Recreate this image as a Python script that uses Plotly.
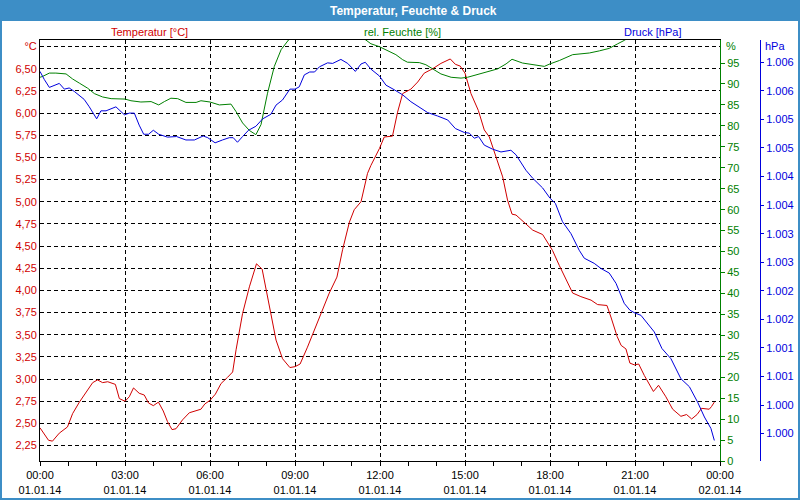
import pandas as pd
import plotly.graph_objects as go

# ---------------- data ----------------
temp_h = [0.0,0.30,0.44,0.68,0.97,1.15,1.39,1.62,1.86,2.03,
          2.21,2.39,2.66,2.80,3.00,3.15,3.30,3.50,3.68,3.83,
          4.00,4.18,4.35,4.50,4.66,4.80,5.03,5.27,5.45,5.68,
          5.82,6.00,6.19,6.39,6.62,6.80,6.92,7.15,7.39,7.64,
          7.84,8.09,8.33,8.56,8.82,9.00,9.18,9.44,9.72,9.97,
          10.21,10.48,10.68,10.92,11.09,11.33,11.56,11.68,11.98,12.15,
          12.44,12.62,12.80,13.09,13.33,13.56,13.86,14.15,14.48,14.66,
          14.83,15.00,15.21,15.47,15.68,15.86,16.09,16.33,16.50,16.66,
          16.80,17.09,17.39,17.74,18.00,18.09,18.33,18.56,18.80,19.09,
          19.45,19.68,20.01,20.15,20.37,20.51,20.68,20.82,20.98,21.13,
          21.33,21.65,21.83,22.09,22.33,22.62,22.82,23.00,23.19,23.35,
          23.62,23.70,23.80]
temp_v = [2.45,2.31,2.30,2.39,2.46,2.61,2.74,2.85,2.96,2.99,
          2.96,2.97,2.94,2.78,2.75,2.80,2.90,2.84,2.82,2.73,
          2.70,2.74,2.64,2.52,2.43,2.44,2.54,2.62,2.64,2.66,
          2.72,2.76,2.83,2.95,3.02,3.08,3.33,3.74,4.04,4.30,
          4.24,3.81,3.44,3.23,3.13,3.14,3.17,3.36,3.59,3.78,
          3.97,4.15,4.46,4.77,4.91,5.00,5.32,5.41,5.60,5.73,
          5.74,6.01,6.22,6.27,6.35,6.45,6.50,6.56,6.61,6.55,
          6.53,6.45,6.22,6.03,5.81,5.73,5.51,5.28,5.02,4.86,
          4.85,4.77,4.68,4.63,4.49,4.45,4.28,4.12,3.97,3.93,
          3.89,3.84,3.83,3.70,3.48,3.38,3.34,3.18,3.16,3.17,
          3.04,2.86,2.93,2.80,2.66,2.58,2.60,2.55,2.60,2.67,
          2.66,2.69,2.74]

hum_h = [0.0,0.09,0.33,0.56,0.92,1.15,1.39,1.68,1.92,2.21,
         2.51,2.80,3.00,3.21,3.56,3.92,4.19,4.39,4.62,4.86,
         5.15,5.51,5.68,6.00,6.33,6.74,6.92,7.15,7.39,7.62,
         7.80,8.03,8.27,8.51,8.77,9.2,10.0,11.0,
         11.51,11.68,11.98,12.21,12.56,12.80,12.97,13.39,13.62,13.86,
         14.15,14.51,14.86,15.09,15.39,15.68,16.15,16.45,16.66,17.03,
         17.51,17.80,18.00,18.33,18.80,19.39,19.74,20.09,20.39,20.62,
         21.0,22.0,23.0,23.8]
hum_v = [91.6,91.8,92.6,92.6,92.4,91.2,90.2,89.0,87.7,86.9,
         86.5,86.4,86.4,86.0,85.7,85.8,85.0,85.8,86.6,86.5,
         85.6,85.6,86.0,85.7,85.0,85.2,83.4,80.7,78.9,77.9,
         80.3,87.8,94.2,98.2,100.5,103,104,103,
         100.5,99.6,98.9,98.2,97.0,95.8,95.2,95.1,94.6,93.6,
         92.4,91.6,91.4,91.6,92.2,92.8,93.6,94.8,95.9,95.0,
         94.6,94.2,94.8,95.6,97.0,97.4,97.9,98.5,99.6,100.4,
         102,103,103,103]

pres_h = [0.0,0.15,0.33,0.50,0.68,0.86,1.03,1.21,1.39,1.56,
          1.74,2.00,2.15,2.33,2.68,2.98,3.15,3.33,3.50,3.66,
          3.83,4.00,4.19,4.50,4.82,5.15,5.45,5.76,5.92,6.18,
          6.44,6.68,6.82,6.97,7.15,7.36,7.62,7.86,8.15,8.33,
          8.56,8.82,9.00,9.15,9.33,9.52,9.69,9.86,10.15,10.33,
          10.62,10.86,11.13,11.33,11.48,11.68,11.98,12.21,12.50,12.80,
          13.09,13.39,13.68,14.03,14.39,14.66,14.98,15.15,15.33,15.48,
          15.68,15.97,16.27,16.62,16.80,17.15,17.39,17.74,18.00,18.19,
          18.44,18.74,19.03,19.21,19.56,19.80,20.09,20.33,20.62,20.82,
          21.00,21.21,21.39,21.68,21.95,22.27,22.62,22.92,23.21,23.45,
          23.68,23.80]
pres_v = [1.00584,1.00570,1.00556,1.00559,1.00563,1.00553,1.00555,1.00549,1.00541,1.00535,
          1.00522,1.00501,1.00515,1.00515,1.00522,1.00508,1.00511,1.00511,1.00490,1.00474,
          1.00474,1.00481,1.00474,1.00469,1.00470,1.00464,1.00464,1.00471,1.00468,1.00459,
          1.00464,1.00468,1.00468,1.00460,1.00470,1.00481,1.00488,1.00501,1.00509,1.00525,
          1.00534,1.00553,1.00553,1.00557,1.00578,1.00583,1.00583,1.00592,1.00599,1.00598,
          1.00605,1.00598,1.00584,1.00597,1.00600,1.00588,1.00576,1.00560,1.00552,1.00543,
          1.00531,1.00522,1.00512,1.00506,1.00499,1.00484,1.00477,1.00476,1.00467,1.00470,
          1.00455,1.00448,1.00443,1.00446,1.00438,1.00411,1.00397,1.00380,1.00362,1.00353,
          1.00321,1.00300,1.00271,1.00257,1.00248,1.00239,1.00231,1.00213,1.00178,1.00166,
          1.00161,1.00157,1.00146,1.00128,1.00099,1.00081,1.00046,1.00032,1.00005,0.99979,
          0.99959,0.99938]

temp_ticks = [2.25,2.50,2.75,3.00,3.25,3.50,3.75,4.00,4.25,4.50,4.75,5.00,5.25,5.50,5.75,6.00,6.25,6.50,6.75]
temp_ticktext = ["2,25","2,50","2,75","3,00","3,25","3,50","3,75","4,00","4,25","4,50",
                 "4,75","5,00","5,25","5,50","5,75","6,00","6,25","6,50","°C"]
hum_ticks = [0,5,10,15,20,25,30,35,40,45,50,55,60,65,70,75,80,85,90,95]
pres_ticks = [0.9995,1.0000,1.0005,1.0010,1.0015,1.0020,1.0025,1.0030,1.0035,1.0040,1.0045,1.0050,1.0055,1.0060]
pres_ticktext = ["1.000","1.000","1.001","1.001","1.002","1.002","1.003","1.003",
                 "1.004","1.004","1.005","1.005","1.006","1.006"]

title_text = "Temperatur, Feuchte &amp; Druck"
series_labels = ["Temperatur [°C]", "rel. Feuchte [%]", "Druck [hPa]"]

# ---------------- styling ----------------
RED = "#d00000"
GREEN = "#008000"
BLUE = "#0000dd"
FRAME = "#3d8ec6"
FONT = "Liberation Sans"

base = pd.Timestamp("2014-01-01 00:00")
def to_time(hours):
    return [base + pd.Timedelta(hours=h) for h in hours]

fig = go.Figure()
fig.add_trace(go.Scatter(x=to_time(hum_h), y=hum_v, yaxis="y2", mode="lines",
                         line=dict(color=GREEN, width=1), name=series_labels[1]))
fig.add_trace(go.Scatter(x=to_time(pres_h), y=pres_v, yaxis="y3", mode="lines",
                         line=dict(color=BLUE, width=1), name=series_labels[2]))
fig.add_trace(go.Scatter(x=to_time(temp_h), y=temp_v, yaxis="y", mode="lines",
                         line=dict(color=RED, width=1), name=series_labels[0]))

W, H = 800, 500
ML, MR, MT, MB = 40, 40, 40, 39
pw = W - ML - MR
ph = H - MT - MB
def px(x):
    return (x - ML) / pw
def py(y):
    return (H - MB - y) / ph

fig.update_layout(
    width=W, height=H,
    margin=dict(l=ML, r=MR, t=MT, b=MB, pad=0),
    template="none",
    paper_bgcolor="white", plot_bgcolor="white",
    showlegend=False,
    font=dict(family=FONT, size=11, color="black"),
    xaxis=dict(
        type="date", domain=[0, px(720)],
        range=[base, base + pd.Timedelta(hours=24)],
        tick0=base, dtick=3 * 3600 * 1000, tickformat="%H:%M<br>%d.%m.%y",
        ticks="outside", ticklen=4, tickcolor="black", tickwidth=1,
        minor=dict(dtick=3600 * 1000, ticks="outside", ticklen=4, tickcolor="black", showgrid=False),
        showgrid=True, gridcolor="black", gridwidth=1, griddash="4px,3px",
        showline=True, linecolor="black", linewidth=1, mirror=True,
        zeroline=False, tickfont=dict(family=FONT, size=11, color="black"),
        automargin=False,
    ),
    yaxis=dict(
        range=[2.076, 6.824], tickmode="array", tickvals=temp_ticks, ticktext=temp_ticktext,
        ticks="", showgrid=True, gridcolor="black", gridwidth=1, griddash="4px,3px",
        showline=True, linecolor="black", linewidth=1, zeroline=False,
        tickfont=dict(family=FONT, size=11, color=RED), automargin=False,
    ),
    yaxis2=dict(
        overlaying="y", side="right", anchor="x", range=[0, 100.5],
        tickmode="array", tickvals=hum_ticks, ticks="outside", ticklen=4, tickcolor=GREEN,
        showline=True, linecolor=GREEN, linewidth=1, showgrid=False, zeroline=False,
        tickfont=dict(family=FONT, size=11, color=GREEN), automargin=False,
    ),
    yaxis3=dict(
        overlaying="y", side="right", anchor="free", position=1.0,
        range=[0.99902, 1.00639], tickmode="array", tickvals=pres_ticks, ticktext=pres_ticktext,
        ticks="outside", ticklen=3, tickcolor=BLUE,
        showline=True, linecolor=BLUE, linewidth=1, showgrid=False, zeroline=False,
        tickfont=dict(family=FONT, size=11, color=BLUE), automargin=False,
    ),
    shapes=[
        dict(type="rect", xref="paper", yref="paper", x0=px(0), x1=px(800), y0=py(21), y1=py(0),
             fillcolor=FRAME, line=dict(width=0), layer="above"),
        dict(type="rect", xref="paper", yref="paper", x0=px(1), x1=px(799), y0=py(499), y1=py(1),
             fillcolor="rgba(0,0,0,0)", line=dict(color=FRAME, width=2), layer="above"),
    ],
    annotations=[
        dict(text="<b>" + title_text + "</b>", xref="paper", yref="paper", x=px(413), y=py(10.5),
             xanchor="center", yanchor="middle", showarrow=False,
             font=dict(family=FONT, size=12, color="white")),
        dict(text=series_labels[0], xref="paper", yref="paper", x=px(149), y=py(31.5),
             xanchor="center", yanchor="middle", showarrow=False, font=dict(family=FONT, size=11, color=RED)),
        dict(text=series_labels[1], xref="paper", yref="paper", x=px(402), y=py(31.5),
             xanchor="center", yanchor="middle", showarrow=False, font=dict(family=FONT, size=11, color=GREEN)),
        dict(text=series_labels[2], xref="paper", yref="paper", x=px(652), y=py(31.5),
             xanchor="center", yanchor="middle", showarrow=False, font=dict(family=FONT, size=11, color=BLUE)),
        dict(text="%", xref="paper", yref="paper", x=px(724), y=py(46),
             xanchor="left", yanchor="middle", showarrow=False, font=dict(family=FONT, size=11, color=GREEN)),
        dict(text="hPa", xref="paper", yref="paper", x=px(763), y=py(46),
             xanchor="left", yanchor="middle", showarrow=False, font=dict(family=FONT, size=11, color=BLUE)),
    ],
)

fig.write_html("out.html")
